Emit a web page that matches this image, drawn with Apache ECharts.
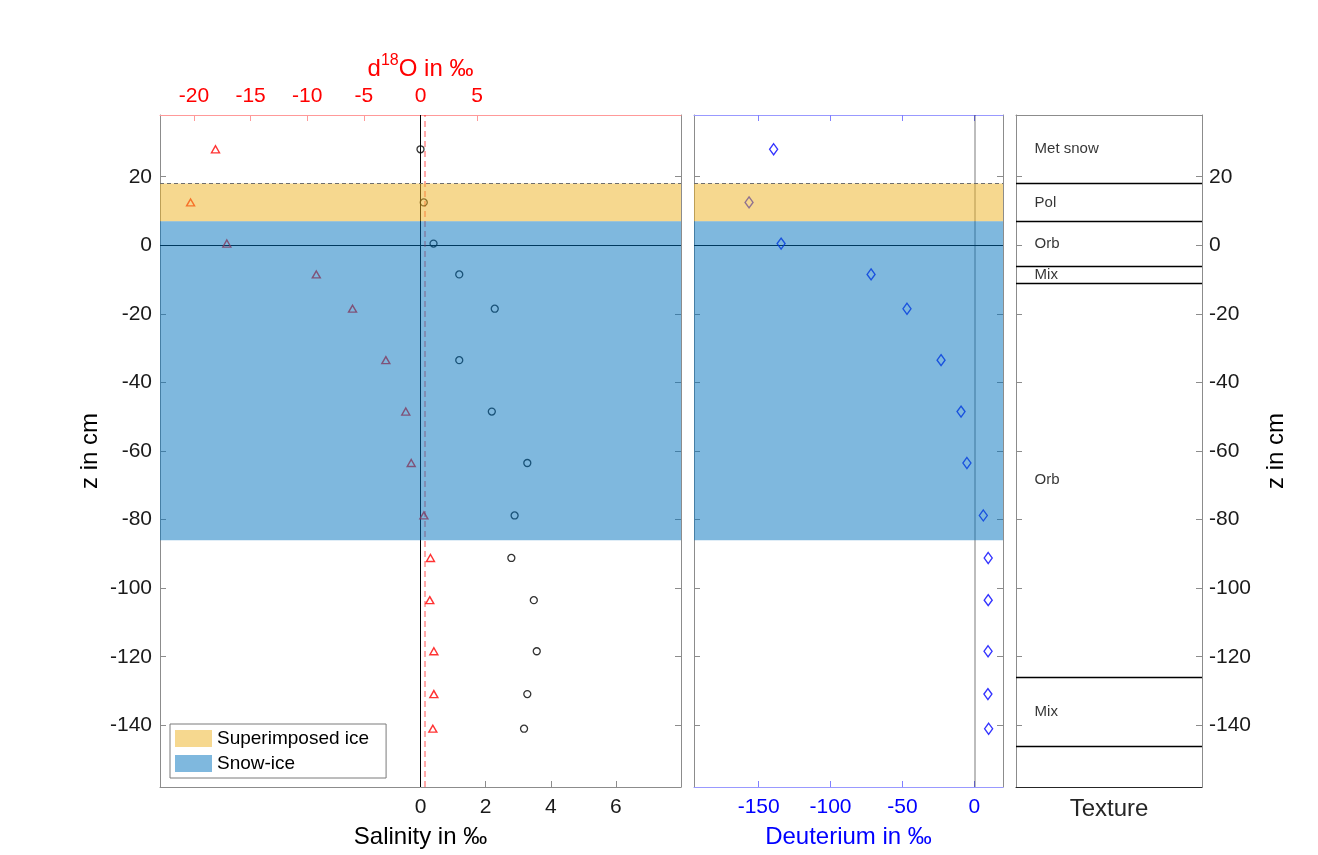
<!DOCTYPE html>
<html><head><meta charset="utf-8">
<script src="https://cdn.jsdelivr.net/npm/echarts@6/dist/echarts.min.js"></script>
<style>html,body{margin:0;padding:0;background:#fff}#c{width:1318px;height:855px}</style>
</head><body><div id="c"></div>
<script>
// ---- data ----
const depth = [28, 12.5, 0.5, -8.5, -18.5, -33.5, -48.5, -63.5, -78.8, -91.2, -103.5, -118.4, -130.9, -141];
const salinity = [0.0, 0.1, 0.4, 1.19, 2.28, 1.19, 2.19, 3.28, 2.89, 2.79, 3.48, 3.57, 3.28, 3.18];
const d18O = [-18.1, -20.3, -17.1, -9.2, -6.0, -3.06, -1.3, -0.82, 0.3, 0.88, 0.82, 1.18, 1.18, 1.09];
const deuterium = [-139.6, -156.7, -134.4, -71.8, -46.8, -23.1, -9.2, -5.1, 6.3, 9.7, 9.7, 9.6, 9.5, 10.0];
const superimposedIce = [7, 18];
const snowIce = [-86, 7];
const dashedDepth = 18;
const d18ORef = 0.4;
const textureBounds = [18, 7, -6, -11, -126, -146];
const textureNames = ['Met snow', 'Pol', 'Orb', 'Mix', 'Orb', 'Mix'];
const textureDepth = [28, 12.5, 0.5, -8.5, -68.5, -136];
const zTicks = [-140, -120, -100, -80, -60, -40, -20, 0, 20];
const salTicks = [0, 2, 4, 6];
const d18OTicks = [-20, -15, -10, -5, 0, 5];
const deutTicks = [-150, -100, -50, 0];

// ---- styling ----
const FONT = "'Liberation Sans', Arial, sans-serif";
const GRAY = '#8c8c8c';
const TXT = '#1a1a1a';
const ORANGE = 'rgba(237,177,32,0.5)';
const BLUE = 'rgba(0,114,189,0.5)';
const ZMIN = -158, ZMAX = 38;

function yAx(gridIndex, pos, showLabel, extra) {
  return Object.assign({
    type: 'value', gridIndex, position: pos, min: ZMIN, max: ZMAX,
    axisLine: { show: true, onZero: false, lineStyle: { color: GRAY, width: 1 } },
    axisTick: { show: true, inside: true, length: 6, customValues: zTicks, lineStyle: { color: GRAY } },
    axisLabel: { show: showLabel, customValues: zTicks, color: TXT, fontSize: 21, fontFamily: FONT, margin: 8 },
    splitLine: { show: false }
  }, extra || {});
}

const ptsSal = depth.map((z, i) => [salinity[i], z]);
const ptsO = depth.map((z, i) => [d18O[i], z]);
const ptsD = depth.map((z, i) => [deuterium[i], z]);
const texPts = textureNames.map((n, i) => ({ name: n, value: [0.1, textureDepth[i]] }));

const noLbl = { show: false };
const bandArea = () => ({
  silent: true, z: 8,
  data: [
    [{ yAxis: superimposedIce[0], itemStyle: { color: ORANGE } }, { yAxis: superimposedIce[1] }],
    [{ yAxis: snowIce[0], itemStyle: { color: BLUE } }, { yAxis: snowIce[1] }]
  ]
});

const option = {
  animation: false,
  backgroundColor: '#fff',
  textStyle: { fontFamily: FONT },
  grid: [
    { left: 160, top: 115, width: 521, height: 672 },
    { left: 694, top: 115, width: 309, height: 672 },
    { left: 1016, top: 115, width: 186, height: 672 }
  ],
  legend: {
    orient: 'vertical', left: 170, top: 724, z: 20,
    data: [
      { name: 'Superimposed ice', itemStyle: { color: ORANGE } },
      { name: 'Snow-ice', itemStyle: { color: BLUE } }
    ],
    icon: 'rect', itemWidth: 37, itemHeight: 17, itemGap: 6,
    backgroundColor: '#fff', borderColor: '#7a7a7a', borderWidth: 1,
    padding: [5, 17, 5, 5],
    textStyle: { fontSize: 19, color: '#000', fontFamily: FONT },
    selectedMode: false
  },
  xAxis: [
    { // 0 salinity bottom
      type: 'value', gridIndex: 0, position: 'bottom', min: -8, max: 8,
      name: 'Salinity in ‰', nameLocation: 'middle', nameGap: 38,
      nameTextStyle: { fontSize: 24, color: '#000', fontFamily: FONT },
      axisLine: { show: true, onZero: false, lineStyle: { color: GRAY } },
      axisTick: { show: true, inside: true, length: 6, customValues: salTicks, lineStyle: { color: GRAY } },
      axisLabel: { customValues: salTicks, color: TXT, fontSize: 21, fontFamily: FONT, margin: 10 },
      splitLine: { show: false }
    },
    { // 1 d18O top
      type: 'value', gridIndex: 0, position: 'top', min: -23, max: 23,
      name: '{a|d}{s|18}{a|O in ‰}', nameLocation: 'middle', nameGap: 34,
      nameTextStyle: { rich: {
        a: { fontSize: 24, color: '#ff0000', fontFamily: FONT, verticalAlign: 'bottom', lineHeight: 28 },
        s: { fontSize: 16, color: '#ff0000', fontFamily: FONT, verticalAlign: 'top', lineHeight: 28, padding: [0, 0, 10, 0] }
      } },
      axisLine: { show: true, onZero: false, lineStyle: { color: '#ff9999' } },
      axisTick: { show: true, inside: true, length: 6, customValues: d18OTicks, lineStyle: { color: '#ff9999' } },
      axisLabel: { customValues: d18OTicks, color: '#ff0000', fontSize: 21, fontFamily: FONT, margin: 8 },
      splitLine: { show: false }
    },
    { // 2 deuterium bottom
      type: 'value', gridIndex: 1, position: 'bottom', min: -195, max: 20,
      name: 'Deuterium in ‰', nameLocation: 'middle', nameGap: 38,
      nameTextStyle: { fontSize: 24, color: '#0000ff', fontFamily: FONT },
      axisLine: { show: true, onZero: false, lineStyle: { color: '#9999ff' } },
      axisTick: { show: true, inside: true, length: 6, customValues: deutTicks, lineStyle: { color: '#8080ff' } },
      axisLabel: { customValues: deutTicks, color: '#0000ff', fontSize: 21, fontFamily: FONT, margin: 10 },
      splitLine: { show: false }
    },
    { // 3 deuterium top mirror
      type: 'value', gridIndex: 1, position: 'top', min: -195, max: 20,
      axisLine: { show: true, onZero: false, lineStyle: { color: '#9999ff' } },
      axisTick: { show: true, inside: true, length: 6, customValues: deutTicks, lineStyle: { color: '#8080ff' } },
      axisLabel: noLbl, splitLine: { show: false }
    },
    { // 4 texture bottom
      type: 'value', gridIndex: 2, position: 'bottom', min: 0, max: 1,
      name: 'Texture', nameLocation: 'middle', nameGap: 10,
      nameTextStyle: { fontSize: 24, color: '#262626', fontFamily: FONT },
      axisLine: { show: true, onZero: false, lineStyle: { color: '#262626' } },
      axisTick: { show: false }, axisLabel: noLbl, splitLine: { show: false }
    },
    { // 5 texture top
      type: 'value', gridIndex: 2, position: 'top', min: 0, max: 1,
      axisLine: { show: true, onZero: false, lineStyle: { color: GRAY } },
      axisTick: { show: false }, axisLabel: noLbl, splitLine: { show: false }
    }
  ],
  yAxis: [
    yAx(0, 'left', true, { name: 'z in cm', nameLocation: 'middle', nameGap: 58,
      nameTextStyle: { fontSize: 24, color: '#000', fontFamily: FONT } }),
    yAx(0, 'right', false),
    yAx(1, 'left', false),
    yAx(1, 'right', false),
    yAx(2, 'left', false),
    yAx(2, 'right', true, { name: 'z in cm', nameLocation: 'middle', nameGap: 62, nameRotate: 90,
      nameTextStyle: { fontSize: 24, color: '#000', fontFamily: FONT },
      axisLabel: { show: true, customValues: zTicks, color: TXT, fontSize: 21, fontFamily: FONT, margin: 7 } })
  ],
  series: [
    { // salinity circles
      type: 'scatter', xAxisIndex: 0, yAxisIndex: 0, z: 2, data: ptsSal,
      symbol: 'circle', symbolSize: 7,
      itemStyle: { color: 'rgba(0,0,0,0)', borderColor: '#000', borderWidth: 1.3 },
      markLine: { silent: true, symbol: 'none', label: noLbl, animation: false, z: 1,
        data: [
          { xAxis: 0, lineStyle: { color: '#000', width: 1, type: 'solid' } },
          { yAxis: 0, lineStyle: { color: '#000', width: 1, type: 'solid' } }
        ] }
    },
    { // d18O triangles
      type: 'scatter', xAxisIndex: 1, yAxisIndex: 0, z: 2, data: ptsO,
      symbol: 'triangle', symbolSize: [8, 7],
      itemStyle: { color: 'rgba(0,0,0,0)', borderColor: '#ff0000', borderWidth: 1.4 },
      markLine: { silent: true, symbol: 'none', label: noLbl, animation: false, z: 1,
        data: [ { xAxis: d18ORef, lineStyle: { color: 'rgba(255,0,0,0.45)', width: 1.5, type: [6, 4] } } ] }
    },
    { // deuterium diamonds
      type: 'scatter', xAxisIndex: 2, yAxisIndex: 2, z: 2, data: ptsD,
      symbol: 'diamond', symbolSize: [8, 11],
      itemStyle: { color: 'rgba(0,0,0,0)', borderColor: '#0000ff', borderWidth: 1.4 },
      markLine: { silent: true, symbol: 'none', label: noLbl, animation: false, z: 1,
        data: [
          { xAxis: 0, lineStyle: { color: 'rgba(0,0,0,0.35)', width: 1.5, type: 'solid' } },
          { yAxis: 0, lineStyle: { color: '#000', width: 1, type: 'solid' } }
        ] }
    },
    { // bands left
      name: 'Superimposed ice', type: 'line', xAxisIndex: 0, yAxisIndex: 0, z: 8, data: [],
      itemStyle: { color: ORANGE },
      markArea: bandArea(),
      markLine: { silent: true, symbol: 'none', label: noLbl, animation: false, z: 9,
        data: [ { yAxis: dashedDepth, lineStyle: { color: '#6e6e6e', width: 1, type: [4, 3] } } ] }
    },
    { // bands middle
      name: 'Snow-ice', type: 'line', xAxisIndex: 2, yAxisIndex: 2, z: 8, data: [],
      itemStyle: { color: BLUE },
      markArea: bandArea(),
      markLine: { silent: true, symbol: 'none', label: noLbl, animation: false, z: 9,
        data: [ { yAxis: dashedDepth, lineStyle: { color: '#6e6e6e', width: 1, type: [4, 3] } } ] }
    },
    { // texture
      type: 'scatter', xAxisIndex: 4, yAxisIndex: 4, z: 3, data: texPts,
      symbolSize: 0, silent: true,
      label: { show: true, position: 'right', distance: 0, formatter: p => p.name,
        color: '#000', fontSize: 15, fontFamily: FONT, padding: [6, 0, 0, 0] },
      markLine: { silent: true, symbol: 'none', label: noLbl, animation: false,
        data: textureBounds.map(b => ({ yAxis: b, lineStyle: { color: '#000', width: 1.3, type: 'solid' } })) }
    }
  ]
};
const chart = echarts.init(document.getElementById('c'), null, { renderer: 'canvas' });
chart.setOption(option);
</script></body></html>
